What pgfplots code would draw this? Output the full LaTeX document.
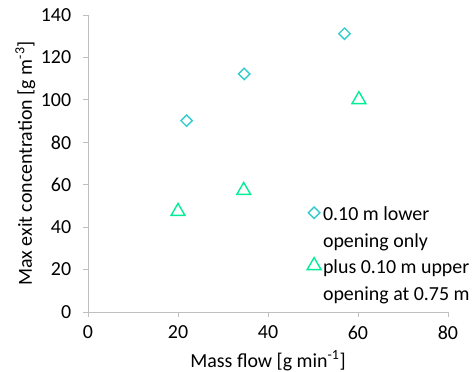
\documentclass[border=0pt]{standalone}
\usepackage{pgfplots}
\pgfplotsset{compat=1.18}
\usepackage{fontspec}
\setmainfont{Carlito}

\definecolor{diamondcol}{RGB}{51,204,204}
\definecolor{trianglecol}{RGB}{0,238,150}
\definecolor{axisgray}{RGB}{191,191,191}

\newcommand{\twolines}[2]{\begin{tabular}[t]{@{}l@{}}#1\\#2\end{tabular}}

\begin{document}
\fontsize{20}{24}\selectfont
\begin{tikzpicture}
\begin{axis}[
  scale only axis,
  width=360bp, height=297bp,
  xmin=0, xmax=80, ymin=0, ymax=140,
  xtick={0,20,...,80}, ytick={0,20,...,140},
  axis x line*=bottom, axis y line*=left,
  axis line style={axisgray, line width=0.9pt},
  tick style={axisgray, line width=0.9pt},
  tick align=outside,
  major tick length=5bp,
  /pgf/number format/assume math mode=true,
  tick label style={font=\fontsize{20}{24}\selectfont, text=black},
  xticklabel style={yshift=-2bp},
  yticklabel style={xshift=-5bp},
  xlabel={Mass flow [g min\textsuperscript{-1}]},
  ylabel={Max exit concentration [g m\textsuperscript{-3}]},
  label style={font=\fontsize{20}{24}\selectfont},
  xlabel style={yshift=2.5bp},
  ylabel style={yshift=-8bp},
  legend style={draw=none, fill=none, at={(0.6,0.385)}, anchor=north west,
    font=\fontsize{20}{27}\selectfont,
    cells={anchor=west}, row sep=27bp,
    /tikz/every even column/.append style={column sep=2bp}},
  legend cell align=left,
]
\addplot[only marks, mark=square, mark size=4bp,
  mark options={rotate=45, draw=diamondcol, line width=1.4pt}]
  coordinates {(21.9,90.2) (34.7,112.2) (57.0,131.2)};
\addlegendentry{\twolines{0.10 m lower}{opening only}}
\addplot[only marks, mark=triangle, mark size=8bp,
  mark options={draw=trianglecol, line width=1.4pt}]
  coordinates {(20.0,47.4) (34.6,57.3) (60.2,100.1)};
\addlegendentry{\twolines{plus 0.10 m upper}{opening at 0.75 m}}
\end{axis}
\pgfresetboundingbox
\path (-88bp,-60bp) rectangle (387bp,312bp);
\end{tikzpicture}
\end{document}
